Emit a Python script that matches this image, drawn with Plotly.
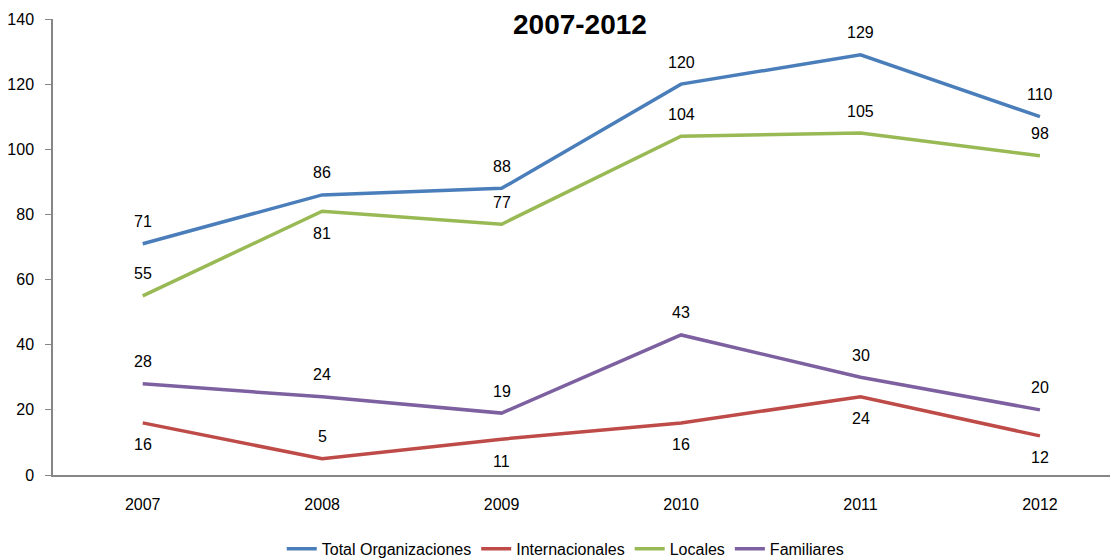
import plotly.graph_objects as go

years = ["2007", "2008", "2009", "2010", "2011", "2012"]
total = [71, 86, 88, 120, 129, 110]
internacionales = [16, 5, 11, 16, 24, 12]
locales = [55, 81, 77, 104, 105, 98]
familiares = [28, 24, 19, 43, 30, 20]

names = ["Total Organizaciones", "Internacionales", "Locales", "Familiares"]
colors = ["#4A7EBB", "#BE4B48", "#98B954", "#7D60A0"]
series = [total, internacionales, locales, familiares]
# label placement: 1 above, -1 below
label_side = [
    [1, 1, 1, 1, 1, 1],
    [-1, 1, -1, -1, -1, -1],
    [1, -1, 1, 1, 1, 1],
    [1, 1, 1, 1, 1, 1],
]

FONT = "Liberation Sans"
fig = go.Figure()
annotations = []
for name, col, vals, sides in zip(names, colors, series, label_side):
    fig.add_trace(go.Scatter(x=years, y=vals, name=name, mode="lines",
                             line=dict(color=col, width=3.5)))
    for i, (yv, s) in enumerate(zip(vals, sides)):
        annotations.append(dict(x=i, y=yv, xref="x", yref="y", text=str(yv),
                                showarrow=False, yshift=22 * s,
                                font=dict(family=FONT, size=16, color="#000")))

annotations.append(dict(text="<b>2007-2012</b>", x=0.4948, y=1.0241,
                        xref="paper", yref="paper", showarrow=False,
                        xanchor="center", yanchor="top", borderpad=0,
                        font=dict(family=FONT, size=28, color="#000")))

fig.update_layout(
    width=1110, height=551,
    margin=dict(l=45, r=0, t=11, b=84, pad=0, autoexpand=False),
    paper_bgcolor="white", plot_bgcolor="white",
    showlegend=True,
    legend=dict(orientation="h", x=0.481, xanchor="center", y=-0.162, yanchor="middle",
                font=dict(family=FONT, size=16, color="#000"), itemwidth=30,
                tracegroupgap=0),
    annotations=annotations,
    font=dict(family=FONT, size=16, color="#000"),
)
fig.update_xaxes(type="category", range=[-0.5, 5.435], showgrid=False,
                 showline=True, linecolor="#868686", linewidth=2,
                 ticks="", ticklabelstandoff=14, tickfont=dict(family=FONT, size=16, color="#000"),
                 zeroline=False, fixedrange=True, automargin=False)
fig.update_yaxes(range=[0, 140], dtick=20, showgrid=False,
                 showline=True, linecolor="#868686", linewidth=1.5,
                 ticks="outside", ticklen=6, tickcolor="#868686",
                 ticklabelstandoff=8,
                 tickfont=dict(family=FONT, size=16, color="#000"),
                 zeroline=False, fixedrange=True, automargin=False)

fig.write_html("out.html")
